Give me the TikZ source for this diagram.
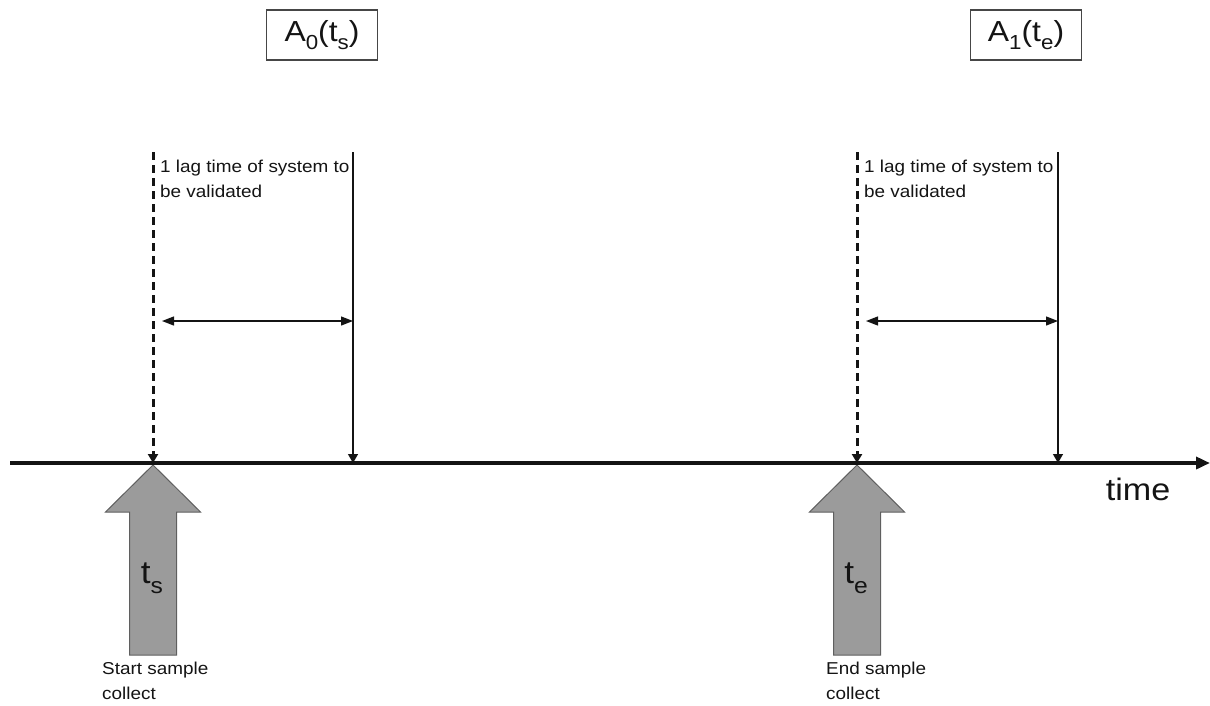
\documentclass[tikz,border=0pt]{standalone}
\usepackage{fontspec}
\setmainfont{Liberation Sans}[FakeStretch=1.1]
\usetikzlibrary{positioning,arrows.meta}
\definecolor{ink}{RGB}{20,20,20}
\definecolor{boxink}{RGB}{70,70,70}
\definecolor{fillgray}{RGB}{155,155,155}
\definecolor{edgegray}{RGB}{95,95,95}
\newcommand\lowidx[1]{\raisebox{-0.3em}{\scalebox{0.7}{#1}}}

\begin{document}
\begin{tikzpicture}[x=1pt,y=-1pt,
  every node/.style={font=\fontsize{17.2}{25}\selectfont,text=ink},
  amount/.style={draw=boxink,line width=1.3pt,minimum width=111pt,minimum height=50pt,inner sep=0pt,font=\fontsize{29}{29}\selectfont},
  bigarrow/.style={draw=edgegray,fill=fillgray,line width=1pt,line join=miter},
  tip/.style={-{Triangle[length=9pt,width=10pt]}},
  axis/.style={-{Triangle[length=14pt,width=12pt]},line width=4pt,draw=ink},
  lag/.style={tip,line width=1.3pt,draw=ink},
  lagstart/.style={tip,line width=3pt,dash pattern=on 8pt off 5pt,draw=ink},
  span/.style={{Triangle[length=12pt,width=9pt]}-{Triangle[length=12pt,width=9pt]},line width=1.3pt,draw=ink}
]
\useasboundingbox (0,0) rectangle (1210,705);

% time axis
\coordinate (axstart) at (10,463);
\coordinate (axend) at (1210,463);
\coordinate (ts) at (153,463);
\coordinate (tslag) at (353,463);
\coordinate (te) at (857,463);
\coordinate (telag) at (1058,463);
\node[font=\fontsize{31}{31}\selectfont,anchor=north] (timelbl) at (1138,474) {time};

% start of sampling
\draw[bigarrow] (ts) ++(0,2) -- ++(47.5,47) -- ++(-24,0) -- ++(0,143) -- ++(-47,0) -- ++(0,-143) -- ++(-24,0) -- cycle;
\node[font=\fontsize{32}{32}\selectfont] (tslbl) at (152,578) {t\lowidx{s}};
\node[anchor=north west,align=left,inner sep=0pt] (startlbl) at (102,662) {Start sample\\collect};
\coordinate (tstop) at (153,152);
\coordinate (tslagtop) at (353,152);
\draw[lagstart] (tstop) -- (ts);
\draw[lag] (tslagtop) -- (tslag);
\coordinate (tsspanl) at (162,321);
\coordinate (tsspanr) at (353,321);
\draw[span] (tsspanl) -- (tsspanr);
\node[anchor=north west,align=left,inner sep=0pt] (tsnote) at (160,160) {1 lag time of system to\\be validated};
\node[amount] (a0) at (322,35) {A\lowidx{0}(t\lowidx{s})};

% end of sampling
\draw[bigarrow] (te) ++(0,2) -- ++(47.5,47) -- ++(-24,0) -- ++(0,143) -- ++(-47,0) -- ++(0,-143) -- ++(-24,0) -- cycle;
\node[font=\fontsize{32}{32}\selectfont] (telbl) at (856,578) {t\lowidx{e}};
\node[anchor=north west,align=left,inner sep=0pt] (endlbl) at (826,662) {End sample\\collect};
\coordinate (tetop) at (857,152);
\coordinate (telagtop) at (1058,152);
\draw[lagstart] (tetop) -- (te);
\draw[lag] (telagtop) -- (telag);
\coordinate (tespanl) at (866,321);
\coordinate (tespanr) at (1058,321);
\draw[span] (tespanl) -- (tespanr);
\node[anchor=north west,align=left,inner sep=0pt] (tenote) at (864,160) {1 lag time of system to\\be validated};
\node[amount] (a1) at (1026,35) {A\lowidx{1}(t\lowidx{e})};

\draw[axis] (axstart) -- (axend);
\end{tikzpicture}
\end{document}
